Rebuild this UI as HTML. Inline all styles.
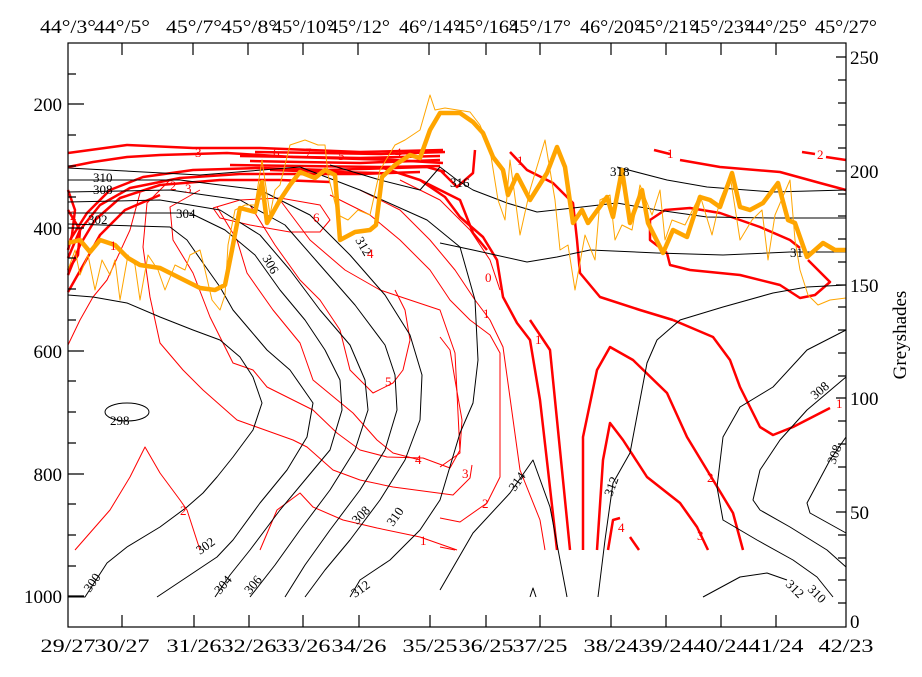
<!DOCTYPE html>
<html><head><meta charset="utf-8"><style>
html,body{margin:0;padding:0;background:#fff;}
svg{display:block;}
text{font-family:"Liberation Serif",serif;}
</style></head><body>
<svg width="922" height="677" viewBox="0 0 922 677" xmlns="http://www.w3.org/2000/svg">
<rect width="922" height="677" fill="#fff"/>

<!-- thin red contours -->
<g fill="none" stroke="#f00" stroke-width="1" stroke-linejoin="round">
<polyline points="68,345 80,320 93,297 107,280 130,230 140,193"/>
<polyline points="170,180 147,203 143,247 150,297 160,343 183,370 203,390 237,420 293,440 307,447 333,470 360,480 393,487 453,495 470,478 472,465"/>
<polyline points="200,190 170,207 173,240 193,273 210,317 233,363 253,370 267,387 313,410 337,433 360,450 387,457 423,458 450,468 460,450 462,420 455,380 450,350 440,337"/>
<polyline points="217,207 237,240 247,273 273,310 300,343 313,380 353,413 377,440 393,453 420,460"/>
<polyline points="250,205 275,245 300,280 320,300 340,330 350,370 373,393 393,383 403,370 410,340 405,310 395,290"/>
<polyline points="280,200 310,240 345,270 380,290 410,300 440,310 455,353 460,453 440,467"/>
<polyline points="213,208 240,200 280,198 320,205 330,220 320,232 290,232 250,225 220,218 213,208"/>
<polyline points="330,195 370,215 400,240 430,270 450,300 470,320 490,335 500,353 500,477 487,503 460,522 440,518"/>
<polyline points="360,190 400,210 430,240 455,270 475,300 490,320 503,347 520,470 540,520 545,550"/>
<polyline points="75,550 110,510 130,477 145,447 160,473 180,500 187,510 200,550"/>
<polyline points="260,550 277,510 300,493 313,507 343,520 377,528 420,537 457,550"/>
<polyline points="440,547 455,550"/>
<polyline points="400,180 440,200 470,230 490,260 500,290"/>
</g>

<!-- thick red contours -->
<g fill="none" stroke="#f00" stroke-width="2.5" stroke-linejoin="round">
<polyline points="68,153 127,145 193,148 260,148 360,152 443,150"/>
<polyline points="68,167 93,162 127,157 160,155 227,153 293,157 393,160 443,163"/>
<polyline points="70,240 87,213 110,190 143,177 193,170 260,168 327,170 393,168 427,167 445,172"/>
<polyline points="68,258 80,230 100,205 130,188 180,178 240,174 300,174 360,174 420,172"/>
<polyline points="68,275 80,245 95,220 120,198 160,185 220,180 280,180 330,182"/>
<polyline points="68,292 85,262 100,235 125,210 160,195"/>
<polyline points="68,190 75,210 72,235 68,250"/>
<polyline points="68,210 80,230 78,255 68,270"/>
<polyline points="255,152 320,153 380,154 445,152"/>
<polyline points="240,156 300,157 360,158 440,156"/>
<polyline points="250,161 300,162 360,163 440,160"/>
<polyline points="230,165 300,166 380,167 440,166"/>
<polyline points="270,170 330,172 380,173"/>
<polyline points="380,167 420,180 460,200 473,233 487,250"/>
<polyline points="440,170 457,187 473,173 475,150"/>
<polyline points="420,180 445,197 460,217 483,237 497,260 503,297 517,323 530,340 540,400 548,470 557,550"/>
<polyline points="510,152 527,170 553,183 573,203 577,240 580,273 600,297 640,310 673,320"/>
<polyline points="530,320 550,350 557,420 570,550"/>
<polyline points="673,320 713,337 730,360 740,387 750,407 760,427 773,435 793,427 830,408"/>
<polyline points="583,550 583,437 597,370 610,347 633,360 667,393 687,437 707,470 733,513 743,550"/>
<polyline points="597,550 603,460 610,423 623,440 647,477 680,503 697,527 708,550"/>
<polyline points="608,550 613,520 620,518"/>
<polyline points="630,537 639,550"/>
<polyline points="654,150 670,154"/>
<polyline points="680,160 720,167 780,172 820,183 846,190"/>
<polyline points="802,152 815,154"/>
<polyline points="826,157 846,160"/>
<polyline points="667,253 650,240 650,220 665,210 690,208 720,213 760,227 790,240 800,248"/>
<polyline points="667,253 670,265 690,270 740,275 780,285 800,298 815,295 830,282 808,260"/>
</g>

<!-- black contours -->
<g fill="none" stroke="#000" stroke-width="1" stroke-linejoin="round">
<ellipse cx="127" cy="412" rx="22" ry="9"/>
<polyline points="68,295 93,297 127,303 160,317 193,330 220,340 240,357 253,377 262,403 253,430 233,457 217,477 203,493 187,507 160,527 127,547 107,563 85,597 68,597"/>
<polyline points="68,224 170,227 187,240 203,263 220,287 233,310 250,330 267,350 290,370 313,403 307,437 287,470 260,503 233,540 217,557 190,575 157,597"/>
<polyline points="68,213 190,213 225,230 255,255 280,290 305,320 325,350 340,380 342,410 330,450 305,480 280,510 250,550 230,575 215,597"/>
<polyline points="68,202 160,200 220,210 260,235 290,270 320,310 350,345 365,380 368,410 355,450 330,490 300,530 275,565 250,597"/>
<polyline points="68,192 170,190 240,200 285,225 320,265 355,305 385,345 395,375 397,410 385,450 360,490 330,530 305,565 285,597"/>
<polyline points="68,180 180,180 260,190 310,215 350,255 385,295 410,335 422,375 420,420 405,460 380,500 350,540 325,570 305,597"/>
<polyline points="68,168 200,175 300,167 360,190 427,220 460,247 475,300 478,360 473,403 460,433 440,500 420,530 390,560 360,580 350,597"/>
<polyline points="440,590 473,533 510,493 533,460 550,507 567,597"/>
<polyline points="330,165 380,180 420,190 440,167 457,180 473,190 507,203 537,212 573,208 617,203 657,210 707,217 773,218 846,218"/>
<polyline points="617,167 667,180 707,187 773,192 846,190"/>
<polyline points="440,243 473,250 527,262 557,257 590,250 657,253 723,255 790,252 846,252"/>
<polyline points="598,597 605,540 613,483 630,453 640,400 647,363 657,340 680,320 723,307 773,293 807,287 846,285"/>
<polyline points="846,330 807,350 773,387 740,407 723,437 717,487 723,520 757,540 793,560 817,577 833,597"/>
<polyline points="846,377 807,410 780,440 760,470 753,500 760,510 790,527 827,550 846,567"/>
<polyline points="846,437 830,460 807,503 810,513 846,533"/>
<polyline points="703,597 740,577 767,573 787,580"/>
<polyline points="530,597 533,588 536,597"/>
</g>

<!-- orange thin -->
<polyline fill="none" stroke="#ffa500" stroke-width="1" stroke-linejoin="round" points="68,270 75,250 80,275 88,255 95,290 102,260 110,275 115,260 120,300 128,255 135,265 140,300 148,255 158,270 165,290 175,265 185,270 190,255 200,250 205,270 212,300 220,310 225,295 228,245 235,210 245,205 255,205 262,160 270,215 275,190 280,185 290,145 305,140 318,145 325,145 328,175 338,215 348,220 358,210 370,215 380,170 395,145 405,140 420,130 430,95 435,110 445,108 470,112 480,125 490,150 498,200 505,220 510,160 520,235 530,190 545,140 555,200 560,250 568,245 575,290 585,235 595,260 600,200 610,195 615,240 622,225 632,230 640,185 652,215 660,190 665,240 672,220 685,225 700,195 712,235 720,200 730,175 740,240 752,220 762,210 768,260 775,215 790,180 795,240 800,270 808,295 818,305 830,300 846,298"/>
<!-- orange thick -->
<polyline fill="none" stroke="#ffa500" stroke-width="4.5" stroke-linejoin="round" points="68,243 80,240 90,252 100,240 115,245 128,258 140,265 160,268 180,278 200,288 215,290 225,285 232,250 240,208 255,212 262,182 267,223 280,200 290,185 300,172 315,178 325,170 335,175 340,240 355,232 370,230 376,225 382,177 395,165 410,155 420,158 430,130 440,113 460,113 473,122 483,133 493,157 503,170 508,195 517,175 530,200 547,173 557,147 565,167 573,223 582,210 588,223 607,197 613,217 622,170 630,223 642,190 648,223 663,253 673,230 687,237 700,197 710,200 720,207 732,173 740,207 750,210 763,203 778,183 788,220 795,223 807,257 823,243 835,250 846,250"/>

<!-- contour labels -->
<g font-size="13" fill="#000">
<text x="93" y="182">310</text><text x="93" y="194">308</text><text x="88" y="224">302</text>
<text x="176" y="218">304</text><text x="110" y="425">298</text>
<text x="610" y="176">318</text><text x="450" y="187">316</text>
<text x="790" y="257">31</text>
<text transform="translate(262,258) rotate(60)">306</text>
<text transform="translate(355,240) rotate(60)">312</text>
<text transform="translate(90,593) rotate(-55)">300</text>
<text transform="translate(200,555) rotate(-35)">302</text>
<text transform="translate(220,595) rotate(-50)">304</text>
<text transform="translate(250,595) rotate(-50)">306</text>
<text transform="translate(357,525) rotate(-45)">308</text>
<text transform="translate(393,527) rotate(-55)">310</text>
<text transform="translate(355,598) rotate(-35)">312</text>
<text transform="translate(515,492) rotate(-55)">314</text>
<text transform="translate(612,497) rotate(-70)">312</text>
<text transform="translate(815,400) rotate(-40)">308</text>
<text transform="translate(835,465) rotate(-70)">308</text>
<text transform="translate(785,585) rotate(45)">312</text>
<text transform="translate(807,590) rotate(45)">310</text>
</g>
<g font-size="13" fill="#f00">
<text x="195" y="157">3</text><text x="273" y="157">6</text><text x="305" y="157">7</text><text x="338" y="160">5</text>
<text x="170" y="190">2</text><text x="185" y="193">3</text><text x="70" y="220">2</text><text x="110" y="250">1</text>
<text x="395" y="157">4</text><text x="313" y="222">6</text><text x="367" y="258">4</text>
<text x="385" y="386">5</text><text x="415" y="464">4</text><text x="420" y="545">1</text>
<text x="180" y="515">2</text><text x="462" y="478">3</text><text x="482" y="508">2</text>
<text x="485" y="282">0</text><text x="483" y="318">1</text><text x="535" y="344">1</text>
<text x="517" y="165">1</text><text x="667" y="158">1</text><text x="817" y="159">2</text>
<text x="707" y="482">2</text><text x="697" y="540">3</text><text x="618" y="532">4</text><text x="836" y="408">1</text>
</g>

<!-- frame -->
<g stroke="#000" stroke-width="1.2" fill="none">
<rect x="68" y="43" width="778" height="584"/>
<path d="M122,43v12M193,43v12M248,43v12M303,43v12M358,43v12M429,43v12M486,43v12M540,43v12M611,43v12M666,43v12M721,43v12M776,43v12"/>
<path d="M122,627v-12M194,627v-12M249,627v-12M303,627v-12M359,627v-12M430,627v-12M486,627v-12M540,627v-12M611,627v-12M666,627v-12M721,627v-12M776,627v-12"/>
<path d="M68,74h8M68,104h16M68,135h8M68,166h8M68,197h8M68,228h16M68,258h8M68,289h8M68,320h8M68,351h16M68,381h8M68,412h8M68,443h8M68,474h16M68,504h8M68,535h8M68,566h8M68,596h16"/>
<path d="M846,57h-10M846,80h-8M846,103h-8M846,125h-8M846,148h-8M846,171h-10M846,194h-8M846,216h-8M846,239h-8M846,262h-8M846,285h-10M846,307h-8M846,330h-8M846,353h-8M846,376h-8M846,398h-10M846,421h-8M846,444h-8M846,467h-8M846,490h-8M846,512h-10M846,535h-8M846,558h-8M846,580h-8M846,603h-8"/>
</g>

<!-- axis labels -->
<g font-size="19" fill="#000">
<g text-anchor="end"><text x="62" y="111">200</text><text x="62" y="235">400</text><text x="62" y="358">600</text><text x="62" y="481">800</text><text x="62" y="603">1000</text></g>
<text x="850" y="64">250</text><text x="850" y="178">200</text><text x="850" y="292">150</text><text x="850" y="405">100</text><text x="850" y="519">50</text><text x="850" y="628">0</text>
<text transform="translate(906,335) rotate(-90)" text-anchor="middle">Greyshades</text>
<g text-anchor="middle" lengthAdjust="spacingAndGlyphs">
<text x="68" y="652" textLength="55" lengthAdjust="spacingAndGlyphs">29/27</text><text x="122" y="652" textLength="55" lengthAdjust="spacingAndGlyphs">30/27</text><text x="194" y="652" textLength="55" lengthAdjust="spacingAndGlyphs">31/26</text><text x="249" y="652" textLength="55" lengthAdjust="spacingAndGlyphs">32/26</text><text x="303" y="652" textLength="55" lengthAdjust="spacingAndGlyphs">33/26</text><text x="359" y="652" textLength="55" lengthAdjust="spacingAndGlyphs">34/26</text><text x="430" y="652" textLength="55" lengthAdjust="spacingAndGlyphs">35/25</text><text x="486" y="652" textLength="55" lengthAdjust="spacingAndGlyphs">36/25</text><text x="540" y="652" textLength="55" lengthAdjust="spacingAndGlyphs">37/25</text><text x="611" y="652" textLength="55" lengthAdjust="spacingAndGlyphs">38/24</text><text x="666" y="652" textLength="55" lengthAdjust="spacingAndGlyphs">39/24</text><text x="721" y="652" textLength="55" lengthAdjust="spacingAndGlyphs">40/24</text><text x="776" y="652" textLength="55" lengthAdjust="spacingAndGlyphs">41/24</text><text x="846" y="652" textLength="55" lengthAdjust="spacingAndGlyphs">42/23</text>
<text x="68" y="33" textLength="56" lengthAdjust="spacingAndGlyphs">44°/3°</text><text x="122" y="33" textLength="56" lengthAdjust="spacingAndGlyphs">44°/5°</text><text x="194" y="33" textLength="56" lengthAdjust="spacingAndGlyphs">45°/7°</text><text x="249" y="33" textLength="56" lengthAdjust="spacingAndGlyphs">45°/8°</text><text x="303" y="33" textLength="62" lengthAdjust="spacingAndGlyphs">45°/10°</text><text x="359" y="33" textLength="62" lengthAdjust="spacingAndGlyphs">45°/12°</text><text x="430" y="33" textLength="62" lengthAdjust="spacingAndGlyphs">46°/14°</text><text x="486" y="33" textLength="62" lengthAdjust="spacingAndGlyphs">45°/16°</text><text x="540" y="33" textLength="62" lengthAdjust="spacingAndGlyphs">45°/17°</text><text x="611" y="33" textLength="62" lengthAdjust="spacingAndGlyphs">46°/20°</text><text x="666" y="33" textLength="62" lengthAdjust="spacingAndGlyphs">45°/21°</text><text x="721" y="33" textLength="62" lengthAdjust="spacingAndGlyphs">45°/23°</text><text x="776" y="33" textLength="62" lengthAdjust="spacingAndGlyphs">44°/25°</text><text x="846" y="33" textLength="62" lengthAdjust="spacingAndGlyphs">45°/27°</text>
</g>
</g>
</svg>
</body></html>
